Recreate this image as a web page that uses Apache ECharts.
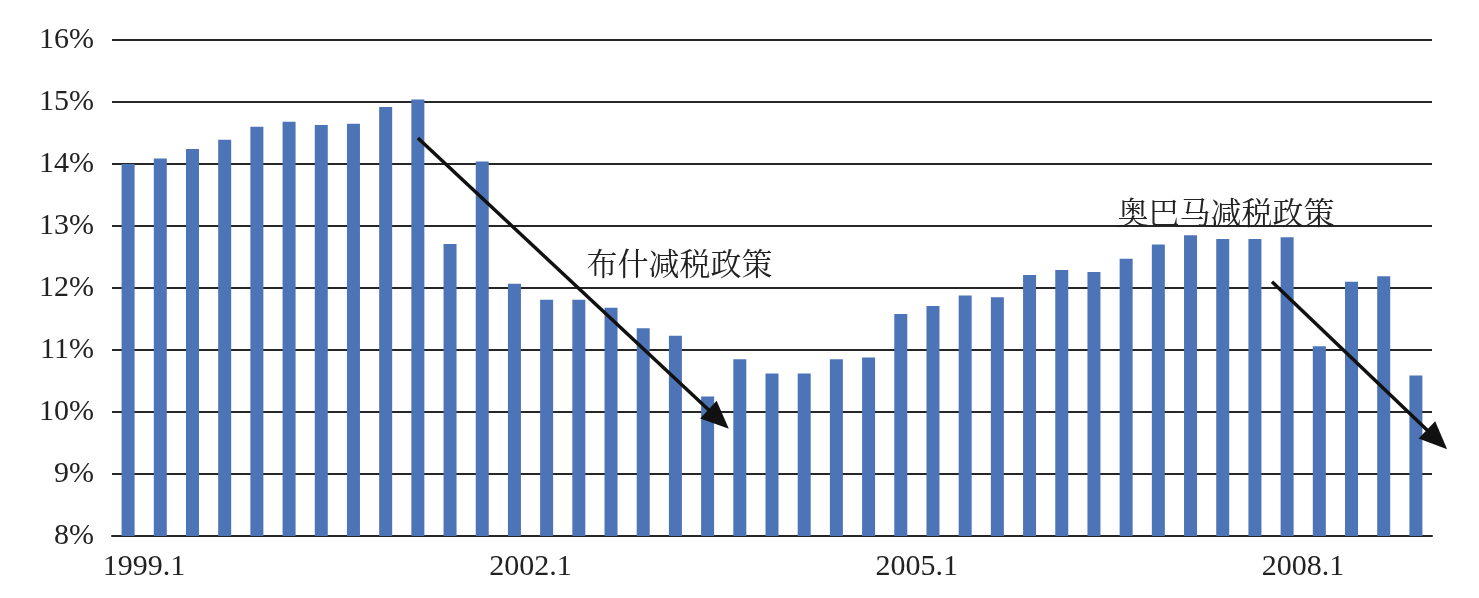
<!DOCTYPE html>
<html>
<head>
<meta charset="utf-8">
<script src="https://cdn.jsdelivr.net/npm/echarts@6/dist/echarts.min.js"></script>
<style>
html,body{margin:0;padding:0;background:#fff;}
#chart{width:1479px;height:598px;}
</style>
</head>
<body>
<div id="chart"></div>
<script>
// Quarterly categories 1999.1 - 2009.1
const categories = [
  '1999.1','1999.2','1999.3','1999.4',
  '2000.1','2000.2','2000.3','2000.4',
  '2001.1','2001.2','2001.3','2001.4',
  '2002.1','2002.2','2002.3','2002.4',
  '2003.1','2003.2','2003.3','2003.4',
  '2004.1','2004.2','2004.3','2004.4',
  '2005.1','2005.2','2005.3','2005.4',
  '2006.1','2006.2','2006.3','2006.4',
  '2007.1','2007.2','2007.3','2007.4',
  '2008.1','2008.2','2008.3','2008.4',
  '2009.1'
];
// Values (%)
const values = [
  14.00,14.09,14.24,14.39,14.60,14.68,14.63,14.65,14.92,15.04,
  12.71,14.04,12.07,11.81,11.81,11.68,11.35,11.23,10.25,10.85,
  10.62,10.62,10.85,10.88,11.58,11.71,11.88,11.85,12.21,12.29,
  12.26,12.47,12.70,12.85,12.79,12.79,12.82,11.06,12.10,12.19,
  10.59
];
// Tick labels shown on the x axis
const shownLabels = ['1999.1','2002.1','2005.1','2008.1'];
// Y axis ticks
const yMin = 8, yMax = 16, yStep = 1;
// Annotation arrows in data units: [xIndex1, y1, xIndex2, y2]
const arrows = [
  [9.00, 14.42, 18.66, 9.73],
  [35.53, 12.10, 40.97, 9.40]
];
// Annotation texts: position in data units
const noteTexts = ['布什减税政策', '奥巴马减税政策'];
const notePos = [[17.13, 12.40], [34.10, 13.23]];

const chart = echarts.init(document.getElementById('chart'));
const gridColor = '#262626';
const barColor = '#4d74b6';

chart.setOption({
  animation: false,
  backgroundColor: '#ffffff',
  grid: { left: 112, right: 47, top: 40, bottom: 62, containLabel: false },
  xAxis: [
    {
      type: 'category',
      data: categories,
      boundaryGap: true,
      axisLine: { show: true, lineStyle: { color: gridColor, width: 2 } },
      axisTick: { show: false },
      splitLine: { show: false },
      axisLabel: {
        interval: function (idx, val) { return shownLabels.indexOf(val) >= 0; },
        fontFamily: 'Liberation Serif',
        fontSize: 30,
        color: '#222',
        margin: 16,
        padding: [0, 0, 0, 32]
      }
    },
    {
      type: 'value',
      min: -0.5,
      max: 40.5,
      show: false,
      splitLine: { show: false }
    }
  ],
  yAxis: {
    type: 'value',
    min: yMin,
    max: yMax,
    interval: yStep,
    axisLine: { show: false },
    axisTick: { show: false },
    splitLine: { show: true, lineStyle: { color: gridColor, width: 2 } },
    axisLabel: {
      formatter: '{value}%',
      fontFamily: 'Liberation Serif',
      fontSize: 30,
      color: '#222',
      margin: 18
    }
  },
  series: [
    {
      type: 'bar',
      data: values,
      barWidth: 13,
      itemStyle: { color: barColor },
      z: 2
    },
    {
      type: 'custom',
      xAxisIndex: 1,
      clip: false,
      z: 5,
      data: arrows,
      encode: { x: [0, 2], y: [1, 3] },
      renderItem: function (params, api) {
        const p1 = api.coord([api.value(0), api.value(1)]);
        const p2 = api.coord([api.value(2), api.value(3)]);
        const dx = p2[0] - p1[0], dy = p2[1] - p1[1];
        const len = Math.sqrt(dx * dx + dy * dy);
        const ux = dx / len, uy = dy / len;
        const headLen = 28, headW = 12;
        const bx = p2[0] - ux * headLen, by = p2[1] - uy * headLen;
        return {
          type: 'group',
          children: [
            {
              type: 'line',
              shape: { x1: p1[0], y1: p1[1], x2: bx + ux * 2, y2: by + uy * 2 },
              style: { stroke: '#111', lineWidth: 3.5 }
            },
            {
              type: 'polygon',
              shape: { points: [
                [p2[0], p2[1]],
                [bx - uy * headW, by + ux * headW],
                [bx + uy * headW, by - ux * headW]
              ] },
              style: { fill: '#111' }
            }
          ]
        };
      }
    },
    {
      type: 'custom',
      xAxisIndex: 1,
      clip: false,
      z: 6,
      data: notePos,
      encode: { x: 0, y: 1 },
      renderItem: function (params, api) {
        const p = api.coord([api.value(0), api.value(1)]);
        return {
          type: 'text',
          x: p[0],
          y: p[1],
          style: {
            text: noteTexts[params.dataIndex],
            fontFamily: "'Noto Serif CJK SC','Noto Sans CJK SC',sans-serif",
            fontSize: 31,
            fill: '#222',
            align: 'center',
            verticalAlign: 'middle'
          }
        };
      }
    }
  ]
});
</script>
</body>
</html>
